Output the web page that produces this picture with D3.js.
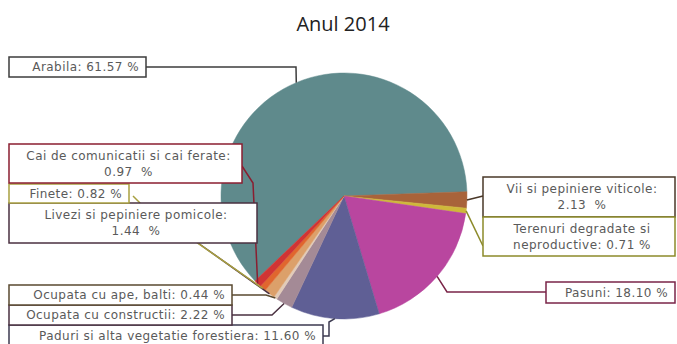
<!DOCTYPE html>
<html><head><meta charset="utf-8">
<script src="https://cdn.jsdelivr.net/npm/d3@7"></script>
<style>
html,body{margin:0;padding:0;background:#fff;}
svg{display:block;}
text{font-family:"DejaVu Sans",sans-serif;}
</style></head>
<body>
<svg id="c" width="677" height="344"></svg>
<script>
// ---- data ----
const title = "Anul 2014";
const categories = [
  "Arabila",
  "Vii si pepiniere viticole",
  "Terenuri degradate si neproductive",
  "Pasuni",
  "Paduri si alta vegetatie forestiera",
  "Ocupata cu constructii",
  "Ocupata cu ape, balti",
  "Livezi si pepiniere pomicole",
  "Finete",
  "Cai de comunicatii si cai ferate"
];
const values = [61.57, 2.13, 0.71, 18.10, 11.60, 2.22, 0.44, 1.44, 0.82, 0.97];
const sliceColors = ["#5f8a8c","#a8633a","#cfb83a","#b9469f","#5f5f95","#a48a96","#e2cbb8","#dca06a","#e0662e","#d03434"];
const boxColors   = ["#3c3c3c","#4a3828","#8c8a2a","#7a2448","#3c3a50","#4a3040","#5a4a30","#4a3040","#a8a040","#8a1e30"];

// ---- layout (label boxes) ----
const labelLayout = [
  {box:[9,57,137,20],  lines:n=>[`${n.name}: ${n.v} %`], anchor:"end", from:[146,67], via:[[296,67]]},
  {box:[483,177,192,40], lines:n=>[`${n.name}:`, `${n.v}  %`], anchor:"middle", from:[483,196], via:[]},
  {box:[483,217,192,39], lines:n=>["Terenuri degradate si", `neproductive: ${n.v} %`], anchor:"middle", from:[483,246], via:[]},
  {box:[546,282,129,21], lines:n=>[`${n.name}: ${n.v} %`], anchor:"end", from:[546,292], via:[[447,292]]},
  {box:[9,325,314,22], lines:n=>[`${n.name}: ${n.v} %`], anchor:"end", from:[323,336], via:[[329,336],[329,322]]},
  {box:[9,305,223,20], lines:n=>[`${n.name}: ${n.v} %`], anchor:"end", from:[232,315], via:[[272,315]]},
  {box:[9,285,223,20], lines:n=>[`${n.name}: ${n.v} %`], anchor:"end", from:[232,295], via:[[266,295]]},
  {box:[9,203,248,40], lines:n=>[`${n.name}:`, `${n.v}  %`], anchor:"middle", from:[198,243], via:[]},
  {box:[9,184,120,19], lines:n=>[`${n.name}: ${n.v} %`], anchor:"end", from:[133,196], via:[[140,203]]},
  {box:[9,144,233,39], lines:n=>[`${n.name}:`, `${n.v}  %`], anchor:"middle", from:[242,166], via:[[253,183]]}
];

const svg = d3.select("#c");
const cx = 344, cy = 196, r = 123;
const rad = d => d*Math.PI/180;
const start = rad(88 - 3.6*values[0]);

svg.append("text").attr("x",343).attr("y",31).attr("text-anchor","middle")
  .style("font-family","'Open Sans',sans-serif").style("font-size","20px").attr("fill","#222").text(title);

const color = d3.scaleOrdinal().domain(categories).range(sliceColors);
const bcolor = d3.scaleOrdinal().domain(categories).range(boxColors);

const pie = d3.pie().sort(null).value(d=>d.val).startAngle(start).endAngle(start+2*Math.PI);
const rows = categories.map((name,i)=>({name, v:values[i].toFixed(2), val:values[i], i}));
const arcs = pie(rows).map((a,i)=>Object.assign(a,{row:rows[i]}));
const arc = d3.arc().innerRadius(0).outerRadius(r);
const edge = d3.arc().innerRadius(r).outerRadius(r);

const g = svg.append("g").attr("transform",`translate(${cx},${cy})`);
g.selectAll("path").data(arcs).join("path")
  .attr("d",arc).attr("fill",d=>color(d.row.name))
  .attr("stroke",d=>color(d.row.name)).attr("stroke-width",0.5);

// leaders
const line = d3.line();
arcs.forEach((a,i)=>{
  const L = labelLayout[i];
  const c = edge.centroid(a);
  const p = [L.from, ...L.via, [cx+c[0], cy+c[1]]];
  svg.append("path").attr("d",line(p)).attr("fill","none")
    .attr("stroke",bcolor(a.row.name)).attr("stroke-width",1.5);
});
// boxes
arcs.forEach((a,i)=>{
  const L = labelLayout[i];
  const [x,y,w,h] = L.box;
  svg.append("rect").attr("x",x).attr("y",y).attr("width",w).attr("height",h)
    .attr("fill","#fff").attr("stroke",bcolor(a.row.name)).attr("stroke-width",1.5);
  const ls = L.lines(a.row);
  const t = svg.append("text").attr("fill","#5a5a5a").style("font-size","12px")
    .style("letter-spacing","0.45px").style("white-space","pre")
    .attr("text-anchor",L.anchor);
  const tx = L.anchor==="end" ? x+w-7 : x+w/2+3;
  const lh = 16;
  const y0 = y + h/2 - (ls.length-1)*lh/2 + 4;
  ls.forEach((s,k)=>t.append("tspan").attr("x",tx).attr("y",y0+k*lh).text(s));
});
</script>
</body></html>
